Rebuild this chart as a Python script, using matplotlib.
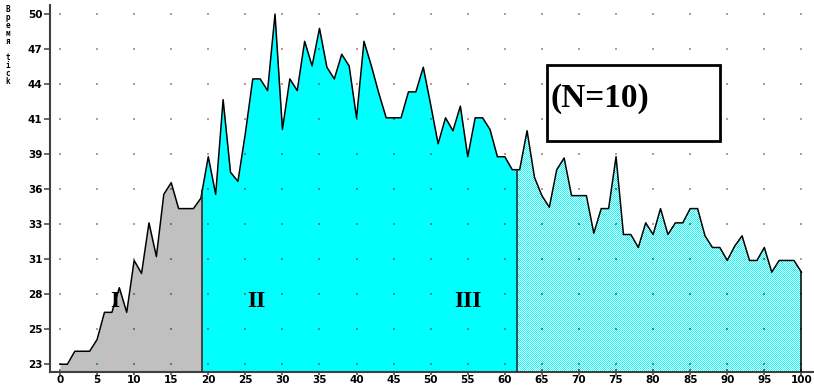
import numpy as np
import matplotlib
matplotlib.use("Agg")
import matplotlib.pyplot as plt
from matplotlib.patches import Rectangle
from matplotlib.path import Path

# time series: mean tick time per step (N=10 runs)
steps = np.arange(101)
tick_time = [23.0, 23.0, 24.0, 24.0, 24.0, 24.9, 27.0, 27.0, 28.9, 27.0,
             31.0, 30.0, 33.9, 31.3, 36.1, 37.0, 35.0, 35.0, 35.0, 35.8,
             39.0, 36.1, 43.4, 37.8, 37.1, 40.8, 45.0, 45.0, 44.1, 50.0,
             41.1, 45.0, 44.1, 47.9, 46.0, 48.9, 45.9, 45.0, 46.9, 46.0,
             42.0, 47.9, 46.0, 43.9, 42.0, 42.0, 42.0, 44.0, 44.0, 45.9,
             43.0, 40.0, 42.0, 41.0, 42.9, 39.0, 42.0, 42.0, 41.1, 39.0,
             39.0, 38.0, 38.0, 41.0, 37.4, 36.0, 35.1, 38.0, 38.9, 36.0,
             36.0, 36.0, 33.1, 35.0, 35.0, 39.0, 33.0, 33.0, 32.0, 33.9,
             33.0, 35.0, 33.0, 33.9, 33.9, 35.0, 35.0, 32.9, 32.0, 32.0,
             31.0, 32.1, 32.9, 31.0, 31.0, 32.0, 30.1, 31.0, 31.0, 31.0,
             30.1]
phase_bounds = [19.2, 61.6]
phase_names = ["I", "II", "III"]
ytick_vals = np.linspace(23, 50, 11)
ytick_labels = ["23", "25", "28", "31", "33", "36", "39", "41", "44", "47", "50"]
xtick_vals = np.arange(0, 101, 5)
ylabel_text = "Время tick"
box_text = "(N=10)"

y = np.asarray(tick_time)
YMIN, YMAX = 22.4, 50.7
XMIN, XMAX = -1.35, 101.7

fig = plt.figure(figsize=(8.14, 3.85), dpi=100)
fig.patch.set_facecolor("white")
ax = fig.add_axes([50 / 814, 13 / 385, 764 / 814, 367 / 385])
ax.set_xlim(XMIN, XMAX)
ax.set_ylim(YMIN, YMAX)
ax.patch.set_alpha(0)

def segment(x0, x1):
    inner = steps[(steps > x0) & (steps < x1)]
    xs = np.concatenate([[x0], inner, [x1]]).astype(float)
    return xs, np.interp(xs, steps, y)

edges = [0.0] + phase_bounds + [100.0]
gray_x, gray_y = segment(edges[0], edges[1])
ax.fill_between(gray_x, YMIN, gray_y, color="#c0c0c0", lw=0, zorder=2)
cyan_x, cyan_y = segment(edges[1], edges[2])
ax.fill_between(cyan_x, YMIN, cyan_y, color="#00ffff", lw=0, zorder=2)

# phase III: cyan/white checkerboard dither, clipped to the area under the curve
dith_x, dith_y = segment(edges[2], edges[3])
x0p, y0p = ax.transData.transform((edges[2], YMIN))
x1p, y1p = ax.transData.transform((edges[3], dith_y.max()))
w, h = int(round(x1p - x0p)) + 2, int(round(y1p - y0p)) + 2
ii, jj = np.indices((h, w))
checker = np.ones((h, w, 3))
checker[(ii + jj) % 2 == 0] = [0.0, 1.0, 1.0]
img = fig.figimage(checker, xo=int(round(x0p)), yo=int(round(y0p)), zorder=-1)
clip = np.vstack([np.column_stack([dith_x, dith_y]),
                  [[edges[3], YMIN], [edges[2], YMIN]]])
img.set_clip_path(Path(clip), ax.transData)

# dotted grid: pink on white, gray-teal under the curve
gx, gy = np.meshgrid(xtick_vals, ytick_vals)
ax.scatter(gx.ravel(), gy.ravel(), s=1.6, marker="s", color="#d09090",
           lw=0, zorder=1)
under = ax.scatter(gx.ravel(), gy.ravel(), s=1.6, marker="s", color="#3c8c8c",
                   lw=0, zorder=2.5)
poly = np.vstack([np.column_stack([steps, y]), [[100, YMIN], [0, YMIN]]])
under.set_clip_path(Path(poly), ax.transData)

ax.plot(steps, y, color="black", lw=1.1, zorder=4)
for b in phase_bounds:
    ax.plot([b, b], [YMIN, np.interp(b, steps, y)], color="#202020",
            lw=1.1, zorder=4)
ax.plot([100, 100], [YMIN, y[-1]], color="black", lw=1.1, zorder=4)

for name, xp in zip(phase_names, [7.4, 26.5, 55.0]):
    ax.text(xp, 27.8, name, fontsize=17, fontweight="bold",
            family="Liberation Serif", ha="center", va="center", zorder=5)

ax.add_patch(Rectangle((65.7, 40.2), 23.3, 5.87, facecolor="white",
                       edgecolor="black", lw=2, zorder=5))
ax.text(66.2, 43.5, box_text, fontsize=24, fontweight="bold",
        family="Liberation Serif", ha="left", va="center", zorder=6)

for s in ["top", "right"]:
    ax.spines[s].set_visible(False)
for s in ["left", "bottom"]:
    ax.spines[s].set_color("#404040")
    ax.spines[s].set_linewidth(1.5)

ax.set_yticks(ytick_vals)
ax.set_yticklabels(ytick_labels)
ax.set_xticks(xtick_vals)
ax.set_xticklabels([str(v) for v in xtick_vals])
ax.tick_params(axis="y", direction="out", length=4.5, width=1.1,
               color="#404040", pad=1, labelsize=7.5)
ax.tick_params(axis="x", direction="inout", length=4, width=1.1,
               color="#404040", pad=0.5, labelsize=7.5)
for lab in ax.get_xticklabels() + ax.get_yticklabels():
    lab.set_fontweight("bold")
    lab.set_family("DejaVu Sans")

# axis title, one letter per line
fig.text(8 / 814, 1 - 5 / 385, "\n".join(ylabel_text), fontsize=5.5,
         fontweight="bold", family="DejaVu Sans Mono", linespacing=0.85,
         ha="center", va="top")

fig.savefig("out.png", dpi=100)
